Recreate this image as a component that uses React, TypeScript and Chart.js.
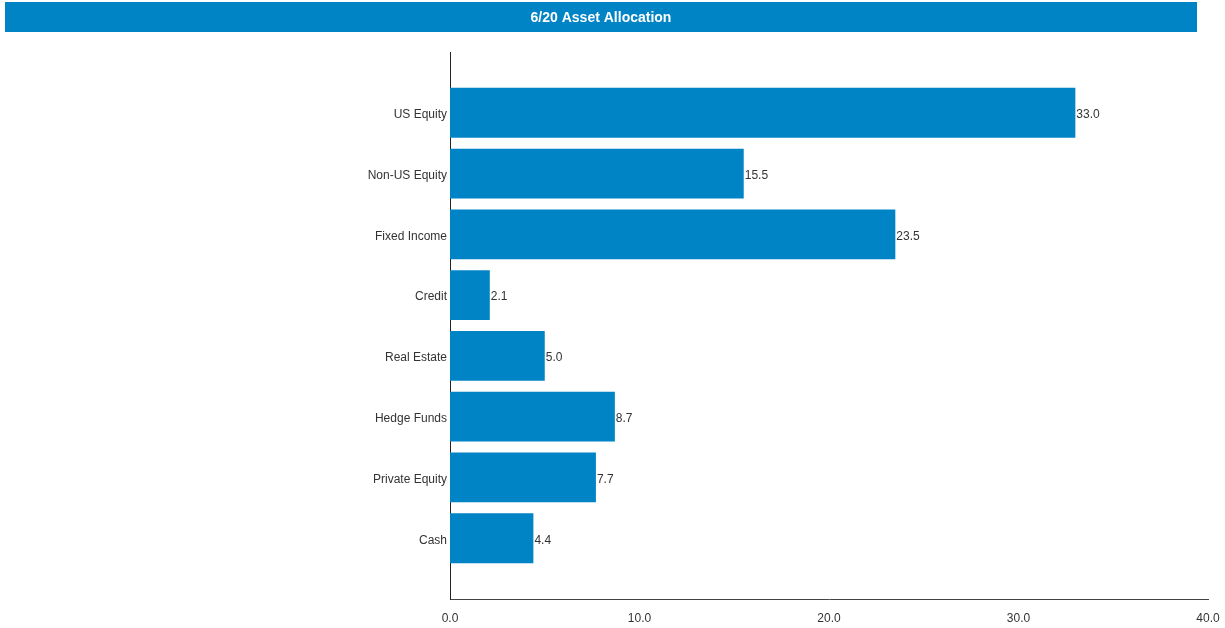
import React, { useEffect, useRef } from "react";
import { Chart, registerables } from "chart.js";

Chart.register(...registerables);

const title = "6/20 Asset Allocation";
const categories = [
  "US Equity",
  "Non-US Equity",
  "Fixed Income",
  "Credit",
  "Real Estate",
  "Hedge Funds",
  "Private Equity",
  "Cash",
];
const values = [33.0, 15.5, 23.5, 2.1, 5.0, 8.7, 7.7, 4.4];
const xTicks = [0, 10, 20, 30, 40];

const BLUE = "#0084C6";
const FONT = "'Liberation Sans Narrow', 'Liberation Sans', Arial, sans-serif";

const titlePlugin = {
  id: "titleBar",
  beforeDraw(chart: any) {
    const ctx = chart.ctx;
    ctx.save();
    ctx.fillStyle = BLUE;
    ctx.fillRect(5, 2, 1192, 30);
    ctx.fillStyle = "#ffffff";
    ctx.font = `bold 14px ${FONT}`;
    ctx.textAlign = "center";
    ctx.textBaseline = "middle";
    ctx.fillText(title, 601, 18);
    ctx.restore();
  },
};

const valueLabelPlugin = {
  id: "valueLabels",
  afterDatasetsDraw(chart: any) {
    const ctx = chart.ctx;
    const meta = chart.getDatasetMeta(0);
    const data = chart.data.datasets[0].data;
    ctx.save();
    ctx.fillStyle = "#333333";
    ctx.font = `12px ${FONT}`;
    ctx.textAlign = "left";
    ctx.textBaseline = "middle";
    meta.data.forEach((bar: any, i: number) => {
      const v = data[i];
      if (v === null || v === undefined) return;
      ctx.fillText(Number(v).toFixed(1), bar.x + 1, bar.y + 2);
    });
    ctx.restore();
  },
};

export default function App() {
  const ref = useRef<HTMLCanvasElement | null>(null);

  useEffect(() => {
    document.body.style.margin = "0";
    const labels = ["", ...categories, ""];
    const data = [null, ...values, null];
    const chart = new Chart(ref.current as HTMLCanvasElement, {
      type: "bar",
      data: {
        labels,
        datasets: [
          {
            data: data as any,
            backgroundColor: BLUE,
            borderWidth: 0,
            barPercentage: 0.82,
            categoryPercentage: 1,
          },
        ],
      },
      options: {
        indexAxis: "y",
        animation: false,
        responsive: false,
        maintainAspectRatio: false,
        layout: { padding: { top: 52, right: 17, left: 0, bottom: 0 } },
        plugins: {
          legend: { display: false },
          tooltip: { enabled: false },
          title: { display: false },
        },
        scales: {
          x: {
            type: "linear",
            min: 0,
            max: 40,
            afterBuildTicks: (scale: any) => {
              scale.ticks = xTicks.map((v) => ({ value: v }));
            },
            afterFit: (scale: any) => {
              scale.height = 29;
              scale.paddingRight = 0;
              scale.paddingLeft = 0;
            },
            grid: { display: false, drawTicks: false },
            border: { display: true, color: "#444444", width: 1 },
            ticks: {
              color: "#333333",
              font: { family: FONT, size: 12 },
              padding: 12,
              maxRotation: 0,
              callback: (v: any) => Number(v).toFixed(1),
            },
          },
          y: {
            type: "category",
            offset: false,
            afterFit: (scale: any) => {
              scale.width = 450;
            },
            grid: { display: false, drawTicks: false },
            border: { display: true, color: "#222222", width: 1 },
            ticks: {
              color: "#333333",
              font: { family: FONT, size: 12 },
              padding: 3,
              labelOffset: 2,
              autoSkip: false,
            },
          },
        },
      },
      plugins: [titlePlugin, valueLabelPlugin],
    });
    return () => chart.destroy();
  }, []);

  return (
    <div style={{ width: 1225, height: 628 }}>
      <canvas ref={ref} width={1225} height={628} style={{ display: "block" }} />
    </div>
  );
}
